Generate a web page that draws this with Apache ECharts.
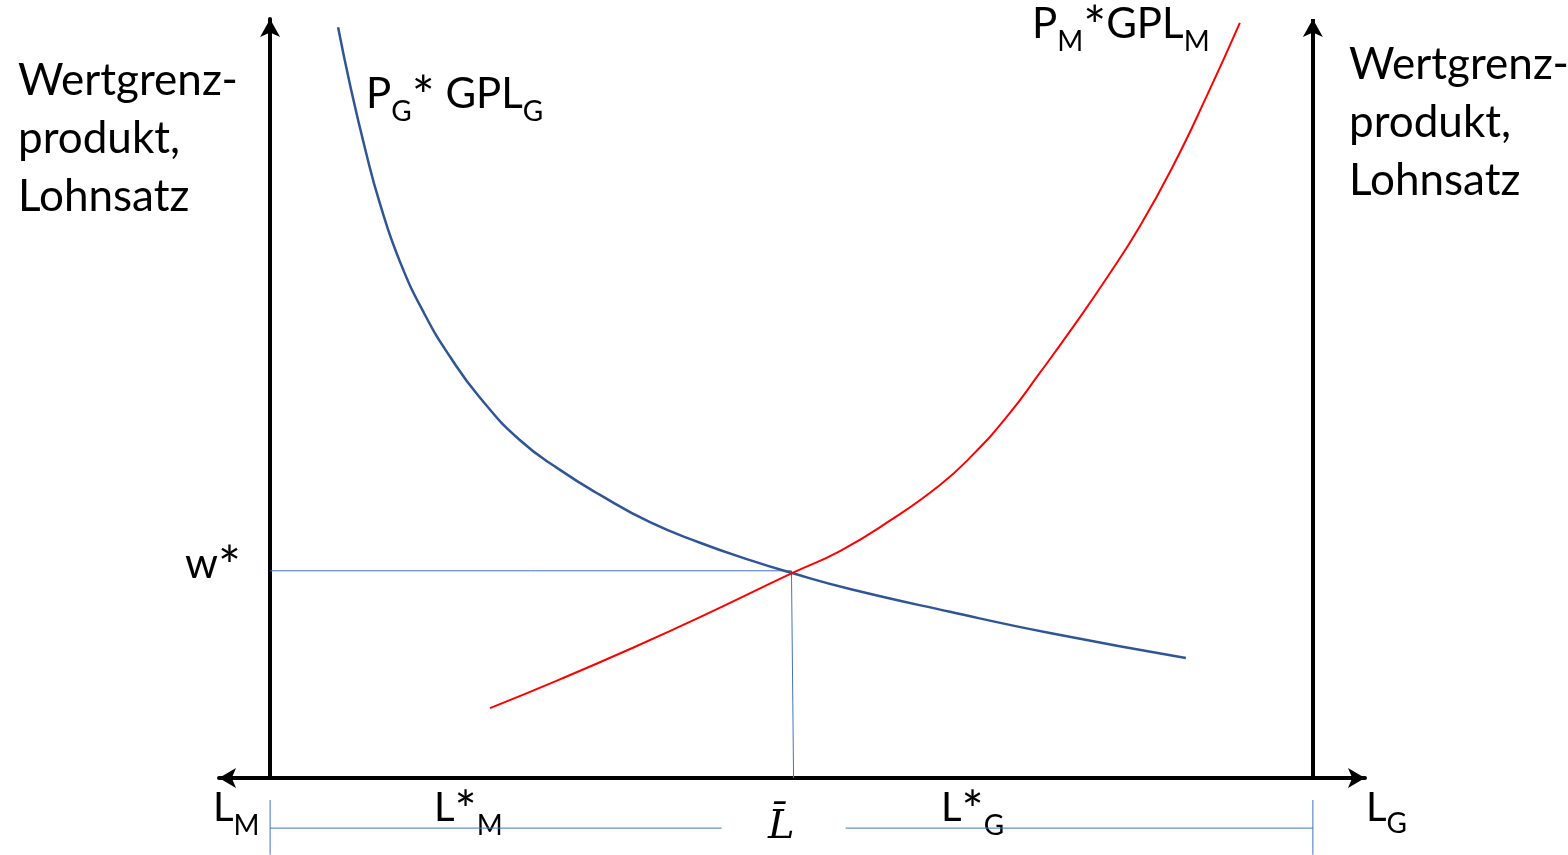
<!DOCTYPE html>
<html>
<head>
<meta charset="utf-8">
<title>Wertgrenzprodukt</title>
<script src="https://cdn.jsdelivr.net/npm/echarts@6/dist/echarts.min.js"></script>
<style>
  html, body { margin: 0; padding: 0; background: #fff; }
  #chart { width: 1568px; height: 855px; }
</style>
</head>
<body>
<div id="chart"></div>
<script>
// Arbeit (0 = L_M Ursprung, 100 = L_G Ursprung), Wertgrenzprodukt 0..100
const gplG = [
  [6.52, 98.9], [7.67, 91.3], [9.11, 82.9], [10.55, 75.6], [12.46, 68.0], [14.86, 61.0],
  [17.26, 55.5], [20.13, 50.1], [23.97, 44.5], [27.80, 40.6], [31.64, 37.3], [36.43, 33.7],
  [41.23, 31.0], [46.02, 28.7], [50.05, 27.0], [55.61, 24.9], [65.20, 21.9], [74.78, 19.1],
  [87.82, 15.8]
];
const gplM = [
  [21.09, 9.2], [27.80, 13.0], [34.52, 17.0], [41.23, 21.2], [50.05, 27.0], [54.65, 29.9],
  [59.44, 33.9], [64.24, 38.6], [67.40, 42.6], [70.66, 47.6], [73.83, 53.4], [76.99, 59.4],
  [80.25, 65.9], [83.41, 72.7], [86.58, 80.6], [89.84, 89.9], [93.00, 99.5]
];
const wStar = 27.3;
const lBar = [50.0, 50.2];
// Klammer unter der Achse: L_M bis L_G
const bracketY = -6.6;
const bracketGap = [43.3, 55.2];
const bracketTick = [-2.9, -10.1];

const blue = '#2F5597';
const thin = '#4472C4';
const font = 'Lato';

const segments = [
  [[0, wStar], [lBar[0], wStar], [lBar[1], 0]],
  [[0, bracketY], [bracketGap[0], bracketY]],
  [[bracketGap[1], bracketY], [100, bracketY]],
  [[0, bracketTick[0]], [0, bracketTick[1]]],
  [[100, bracketTick[0]], [100, bracketTick[1]]]
];

const chart = echarts.init(document.getElementById('chart'));

// rich styles: main text, subscript, bigger asterisk
const sub = (size, pad) => ({
  main: { fontSize: size, lineHeight: 50, fontFamily: font, color: '#000', verticalAlign: 'middle' },
  s: { fontSize: 28, lineHeight: 50, fontFamily: font, color: '#000', padding: [pad, 0, 0, 0], verticalAlign: 'middle' },
  a: { fontSize: size + 12, lineHeight: 50, fontFamily: font, color: '#000', padding: [8, 0, 0, 0], verticalAlign: 'middle' }
});

const txt = (x, y, text, rich) => ({
  type: 'text', x: x, y: y, silent: true,
  style: { text: text, rich: rich, align: 'left', verticalAlign: 'top', fill: '#000', fontFamily: font }
});

const options = {
  animation: false,
  grid: { left: 219, right: 203, top: 19, bottom: 77 },
  xAxis: {
    type: 'value', min: -4.9, max: 105.0,
    axisLine: {
      show: true, onZero: true,
      symbol: ['arrow', 'arrow'], symbolSize: [15, 17],
      lineStyle: { color: '#000', width: 4 }
    },
    axisTick: { show: false }, axisLabel: { show: false }, splitLine: { show: false }
  },
  yAxis: {
    type: 'value', min: 0, max: 100,
    axisLine: {
      show: true, onZero: true,
      symbol: ['none', 'arrow'], symbolSize: [15, 18],
      lineStyle: { color: '#000', width: 4 }
    },
    axisTick: { show: false }, axisLabel: { show: false }, splitLine: { show: false }
  },
  series: [
    {
      name: 'P_G*GPL_G', type: 'line', data: gplG, smooth: 0.5,
      symbol: 'none', clip: false, lineStyle: { color: blue, width: 2.5 }, z: 4
    },
    {
      name: 'P_M*GPL_M', type: 'line', data: gplM, smooth: 0.5,
      symbol: 'none', clip: false, lineStyle: { color: '#FF0000', width: 2 }, z: 5
    },
    ...segments.map((seg) => ({
      type: 'line', data: seg, symbol: 'none', clip: false, silent: true,
      lineStyle: { color: thin, width: 1 }, z: 3
    })),
    {
      // rechte Achse (L_G)
      type: 'line', data: [], silent: true,
      markLine: {
        silent: true, symbol: ['none', 'arrow'], symbolSize: [15, 18],
        label: { show: false },
        lineStyle: { color: '#000', width: 4, type: 'solid' },
        emphasis: { disabled: true },
        data: [[{ coord: [100, 0] }, { coord: [100, 100] }]]
      }
    }
  ],
  graphic: [
    {
      type: 'text', left: 18, top: 52, silent: true,
      style: { text: 'Wertgrenz-\nprodukt,\nLohnsatz', fontSize: 44, lineHeight: 58, fontFamily: font, fill: '#000' }
    },
    {
      type: 'text', left: 1349, top: 36, silent: true,
      style: { text: 'Wertgrenz-\nprodukt,\nLohnsatz', fontSize: 44, lineHeight: 58, fontFamily: font, fill: '#000' }
    },
    txt(185, 539, '{main|w}{a|*}', sub(42, 35)),
    txt(366, 69, '{main|P}{s|G}{a|*}{main| GPL}{s|G}', sub(42, 35)),
    txt(1032, -1, '{main|P}{s|M}{a|*}{main|GPL}{s|M}', sub(42, 35)),
    txt(213, 783, '{main|L}{s|M}', sub(40, 35)),
    txt(434, 783, '{main|L}{a|*}{s|M}', sub(40, 35)),
    txt(941, 783, '{main|L}{a|*}{s|G}', sub(40, 35)),
    txt(1366, 783, '{main|L}{s|G}', sub(40, 32)),
    {
      type: 'text', left: 768, top: 808, silent: true,
      style: { text: 'L\u0304', fontSize: 40, lineHeight: 40, fontFamily: 'DejaVu Serif', fontStyle: 'italic', fill: '#000' }
    }
  ]
};

chart.setOption(options);
</script>
</body>
</html>
